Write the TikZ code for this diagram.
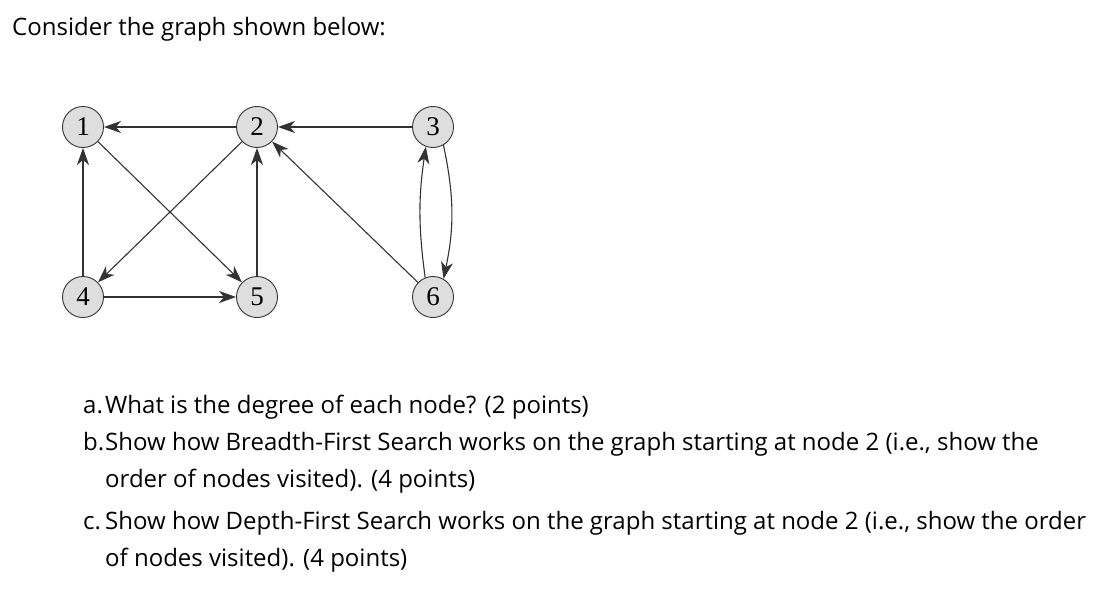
\documentclass[tikz,border=0pt]{standalone}
\usepackage{fontspec}
\setmainfont{Open Sans}
\newfontfamily\numfont{Liberation Serif}
\usetikzlibrary{arrows.meta}
\begin{document}
\begin{tikzpicture}[x=1pt,y=-1pt,
  vtx/.style={circle,draw=black!80,line width=0.9pt,fill=black!13,minimum size=41pt,inner sep=0pt,font=\numfont\fontsize{27}{27}\selectfont},
  edge/.style={draw=black!80,line width=1.1pt,-{Stealth[length=17pt,width=12pt,inset=5pt]}},
  txt/.style={anchor=base west,inner sep=0pt,font=\fontsize{24}{28}\selectfont}]
\useasboundingbox (0,0) rectangle (1114,592);
\node[txt] (t0) at (12,35) {Consider the graph shown below:};
\node[vtx] (n1) at (83,127) {1};
\node[vtx] (n2) at (257,127) {2};
\node[vtx] (n3) at (433,127) {3};
\node[vtx] (n4) at (83,297) {4};
\node[vtx] (n5) at (257,297) {5};
\node[vtx] (n6) at (433,297) {6};
\draw[edge] (n2) -- (n1);
\draw[edge] (n3) -- (n2);
\draw[edge] (n4) -- (n1);
\draw[edge] (n1) -- (n5);
\draw[edge] (n2) -- (n4);
\draw[edge] (n5) -- (n2);
\draw[edge] (n4) -- (n5);
\draw[edge] (n6) -- (n2);
\draw[edge] (n6.112) to[bend left=8] (n3.250);
\draw[edge] (n3.-60) to[bend left=12] (n6.60);
\node[txt] (la) at (83,413) {a.};
\node[txt] (ta) at (105,413) {What is the degree of each node? (2 points)};
\node[txt] (lb) at (83,450) {b.};
\node[txt] (tb) at (105,450) {Show how Breadth-First Search works on the graph starting at node 2 (i.e., show the};
\node[txt] (tb2) at (105,487) {order of nodes visited). (4 points)};
\node[txt] (lc) at (83,529) {c.};
\node[txt] (tc) at (105,529) {Show how Depth-First Search works on the graph starting at node 2 (i.e., show the order};
\node[txt] (tc2) at (105,566) {of nodes visited). (4 points)};
\end{tikzpicture}
\end{document}
